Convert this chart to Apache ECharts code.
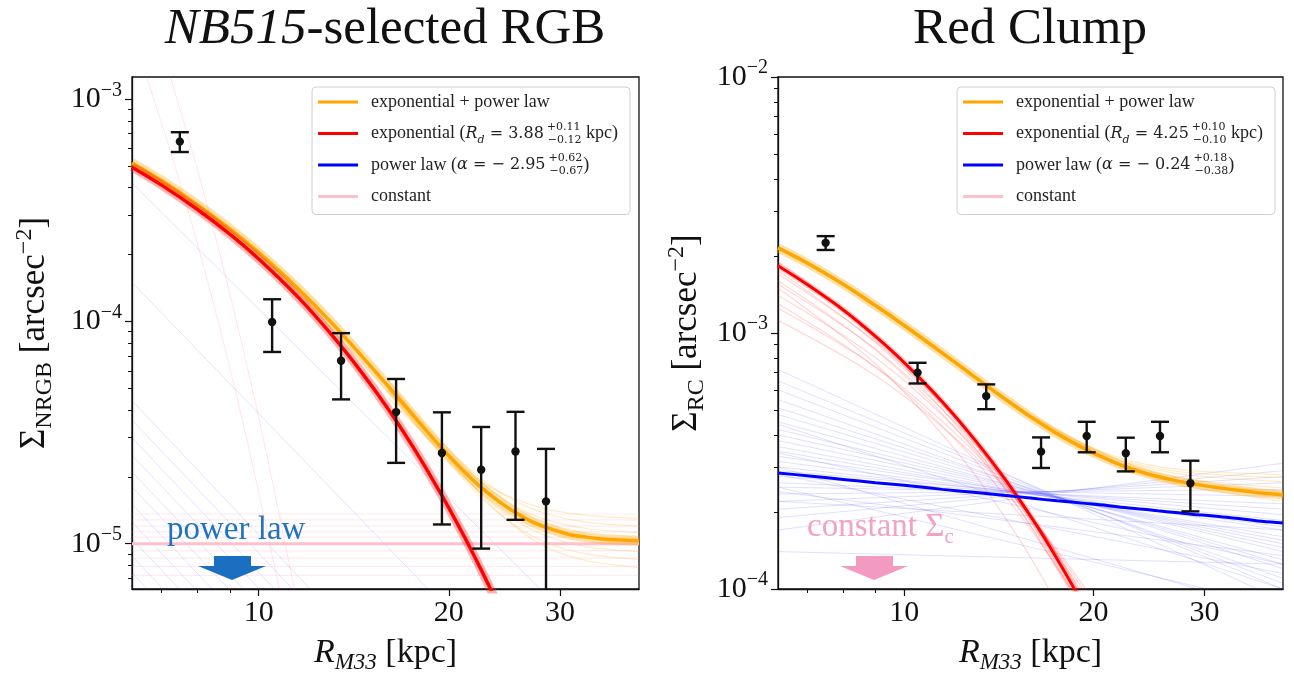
<!DOCTYPE html>
<html>
<head>
<meta charset="utf-8">
<script src="https://cdn.jsdelivr.net/npm/echarts@6/dist/echarts.min.js"></script>
<style>
  html, body { margin: 0; padding: 0; background: #fff; }
  #chart { width: 1294px; height: 681px; }
</style>
</head>
<body>
<div id="chart"></div>
<script>
// ---- measured surface densities (same radial bins for both tracers) ----
const radii = [7.5, 10.5, 13.5, 16.5, 19.5, 22.5, 25.5, 28.5];
const rgbSigma = [6.45e-4, 9.94e-5, 6.66e-5, 3.91e-5, 2.56e-5, 2.15e-5, 2.60e-5, 1.55e-5];
const rgbError = [6.6e-5, 2.65e-5, 2.2e-5, 1.6e-5, 1.34e-5, 1.2e-5, 1.32e-5, 1.12e-5];
const rcSigma = [2.25e-3, 7.0e-4, 5.67e-4, 3.44e-4, 3.96e-4, 3.39e-4, 3.96e-4, 2.59e-4];
const rcError = [1.4e-4, 6.5e-5, 6.3e-5, 4.7e-5, 5.4e-5, 5.1e-5, 5.4e-5, 5.8e-5];

// ---- best-fit model curves ----
const fitR = [6.3, 7, 8, 9, 10, 11.5, 13, 14.5, 16, 17.5, 19.4, 21, 22.4, 24, 25.3, 27, 28.6, 31, 33, 35, 37, 40];
const rgbSum = [5.17e-4, 4.32e-4, 3.35e-4, 2.61e-4, 2.04e-4, 1.42e-4, 9.96e-5, 7.08e-5, 5.14e-5, 3.82e-5, 2.73e-5, 2.15e-5, 1.81e-5, 1.55e-5, 1.40e-5, 1.26e-5, 1.18e-5, 1.10e-5, 1.07e-5, 1.05e-5, 1.04e-5, 1.03e-5];
const rgbExp = [4.95e-4, 4.13e-4, 3.19e-4, 2.47e-4, 1.91e-4, 1.30e-4, 8.81e-5, 5.98e-5, 4.07e-5, 2.76e-5, 1.69e-5, 1.12e-5, 7.82e-6, 5.2e-6, 3.7e-6, 2.4e-6, 1.58e-6, 8.5e-7, 5.1e-7, 3.0e-7, 1.8e-7, 8.0e-8];
const rgbPowR = [6.3, 40];
const rgbPow = [4.0e-6, 1.7e-8];
const rgbConstR = [6.3, 40];
const rgbConst = [1.0e-5, 1.0e-5];

const rcSum = [2.15e-3, 1.88e-3, 1.55e-3, 1.28e-3, 1.07e-3, 8.35e-4, 6.68e-4, 5.50e-4, 4.65e-4, 4.04e-4, 3.52e-4, 3.22e-4, 3.01e-4, 2.85e-4, 2.75e-4, 2.65e-4, 2.58e-4, 2.50e-4, 2.45e-4, 2.41e-4, 2.37e-4, 2.33e-4];
const rcExp = [1.83e-3, 1.55e-3, 1.23e-3, 9.70e-4, 7.66e-4, 5.38e-4, 3.78e-4, 2.66e-4, 1.87e-4, 1.31e-4, 8.39e-5, 5.76e-5, 4.14e-5, 2.84e-5, 2.09e-5, 1.4e-5, 9.6e-6, 5.5e-6, 3.4e-6, 1.9e-6, 1.1e-6, 6.0e-7];
const rcPow = [2.84e-4, 2.77e-4, 2.68e-4, 2.60e-4, 2.54e-4, 2.45e-4, 2.38e-4, 2.32e-4, 2.26e-4, 2.21e-4, 2.16e-4, 2.12e-4, 2.08e-4, 2.05e-4, 2.02e-4, 1.99e-4, 1.96e-4, 1.93e-4, 1.90e-4, 1.87e-4, 1.84e-4, 1.81e-4];
const rcConstR = [6.3, 40];
const rcConst = [5.2e-5, 5.2e-5];

// ---- posterior samples (faint curves) ----
const rgbSumFanR = [16, 19.4, 22.4, 25.3, 28.6, 33, 40];
const rgbSumFan = [
  [4.92e-5, 2.54e-5, 1.63e-5, 1.22e-5, 1.01e-5, 9.0e-6, 8.5e-6],
  [4.99e-5, 2.61e-5, 1.70e-5, 1.29e-5, 1.08e-5, 9.7e-6, 9.2e-6],
  [5.19e-5, 2.81e-5, 1.90e-5, 1.49e-5, 1.28e-5, 1.17e-5, 1.12e-5],
  [5.27e-5, 2.89e-5, 1.98e-5, 1.57e-5, 1.36e-5, 1.25e-5, 1.20e-5],
  [4.56e-5, 2.65e-5, 1.92e-5, 1.60e-5, 1.43e-5, 1.34e-5, 1.30e-5],
  [5.46e-5, 2.72e-5, 1.68e-5, 1.21e-5, 9.6e-6, 8.4e-6, 7.8e-6]
];
const rgbConstFan = [7.2e-6, 7.9e-6, 8.6e-6, 9.3e-6, 1.07e-5, 1.13e-5, 1.2e-5, 1.28e-5, 1.36e-5];
const rgbPowFanS0 = [4.2e-4, 1.5e-4, 4.4e-5, 3.6e-5, 3.0e-5, 2.5e-5, 2.1e-5, 1.8e-5, 1.5e-5, 1.25e-5, 1.05e-5, 8.8e-6, 7.4e-6];
const rgbPowFanR1 = [30, 20, 13.0, 12.2, 11.4, 10.8, 10.2, 9.66, 9.09, 8.55, 8.07, 7.6, 7.18];
const rgbPowFanS1 = [5.1e-6, 5e-6, 5e-6, 5e-6, 5e-6, 5e-6, 5e-6, 5e-6, 5e-6, 5e-6, 5e-6, 5e-6, 5e-6];
const rgbSteepR = [[6.6, 7.5, 8.5, 9.5, 10.5, 11], [7.2, 8.1, 9.1, 10.1, 11.1, 11.6]];
const rgbSteepS = [1.34e-3, 4.23e-4, 1.17e-4, 3.24e-5, 8.9e-6, 4.7e-6];

const rcExpFanR = [6.3, 9, 12, 15, 18, 21];
const rcExpFan = [
  [1.70e-3, 9.24e-4, 4.70e-4, 2.39e-4, 1.21e-4, 6.2e-5],
  [1.55e-3, 8.64e-4, 4.51e-4, 2.36e-4, 1.23e-4, 6.4e-5],
  [1.40e-3, 8.0e-4, 4.30e-4, 2.31e-4, 1.24e-4, 6.65e-5],
  [1.25e-3, 7.37e-4, 4.10e-4, 2.28e-4, 1.27e-4, 7.0e-5],
  [1.12e-3, 6.81e-4, 3.92e-4, 2.26e-4, 1.30e-4, 7.5e-5],
  [1.90e-3, 9.83e-4, 4.73e-4, 2.27e-4, 1.09e-4, 5.3e-5],
  [1.60e-3, 8.59e-4, 4.31e-4, 2.16e-4, 1.08e-4, 5.4e-5],
  [1.50e-3, 7.57e-4, 3.54e-4, 1.66e-4, 7.7e-5, 3.6e-5],
  [1.30e-3, 7.34e-4, 3.89e-4, 2.06e-4, 1.09e-4, 5.8e-5],
  [1.75e-3, 9.17e-4, 4.47e-4, 2.18e-4, 1.06e-4, 5.2e-5]
];
const rcPowFanR = [6.3, 40];
const rcPowFan = [
  [7.2e-4, 9.0e-5], [6.5e-4, 1.0e-4], [6.0e-4, 1.05e-4], [5.5e-4, 1.1e-4], [5.1e-4, 1.2e-4],
  [4.8e-4, 1.25e-4], [4.5e-4, 1.3e-4], [4.2e-4, 1.4e-4], [4.0e-4, 1.45e-4], [3.8e-4, 1.5e-4],
  [3.6e-4, 1.55e-4], [3.45e-4, 1.6e-4], [3.3e-4, 1.7e-4], [3.15e-4, 1.75e-4], [3.0e-4, 1.85e-4],
  [2.9e-4, 1.95e-4], [2.75e-4, 2.05e-4], [2.6e-4, 2.15e-4], [2.5e-4, 2.3e-4], [2.35e-4, 2.45e-4],
  [2.2e-4, 2.6e-4], [2.05e-4, 2.75e-4], [1.9e-4, 2.9e-4], [1.7e-4, 3.1e-4], [3.4e-4, 1.25e-4],
  [2.8e-4, 1.15e-4], [2.4e-4, 1.35e-4], [4.4e-4, 1.0e-4], [1.4e-4, 1.25e-4], [2.2e-4, 1.7e-4],
  [3.0e-4, 8.0e-5], [2.5e-4, 8.5e-5]
];
const rcSumFanR = [16, 19.5, 22.5, 25.5, 28.5, 33, 40];
const rcSumFan = [
  [4.70e-4, 3.60e-4, 3.12e-4, 2.90e-4, 2.78e-4, 2.70e-4, 2.62e-4],
  [4.75e-4, 3.65e-4, 3.20e-4, 3.00e-4, 2.90e-4, 2.85e-4, 2.80e-4],
  [4.60e-4, 3.45e-4, 2.95e-4, 2.68e-4, 2.50e-4, 2.36e-4, 2.20e-4],
  [4.68e-4, 3.55e-4, 3.06e-4, 2.82e-4, 2.68e-4, 2.58e-4, 2.48e-4],
  [4.72e-4, 3.62e-4, 3.15e-4, 2.95e-4, 2.84e-4, 2.78e-4, 2.72e-4],
  [4.62e-4, 3.48e-4, 3.00e-4, 2.75e-4, 2.60e-4, 2.50e-4, 2.40e-4]
];

// ---- axes ----
const xRange = [6.3, 40];
const xMajorTicks = [10, 20, 30];
const xMinorTicks = [7, 8, 9];
const rgbRange = [6.25e-6, 1.26e-3];
const rgbMajorTicks = [1e-5, 1e-4, 1e-3];
const rgbMinorTicks = [7e-6, 8e-6, 9e-6, 2e-5, 3e-5, 4e-5, 5e-5, 6e-5, 7e-5, 8e-5, 9e-5, 2e-4, 3e-4, 4e-4, 5e-4, 6e-4, 7e-4, 8e-4, 9e-4];
const rcRange = [1e-4, 1e-2];
const rcMajorTicks = [1e-4, 1e-3, 1e-2];
const rcMinorTicks = [2e-4, 3e-4, 4e-4, 5e-4, 6e-4, 7e-4, 8e-4, 9e-4, 2e-3, 3e-3, 4e-3, 5e-3, 6e-3, 7e-3, 8e-3, 9e-3];

const legendLabels = {
  rgbSum: 'exponential + power law',
  rgbExp: 'exponential ({it|R}{sb|d}{m| = 3.88}{su|+0.11}{sd|−0.12}{t| kpc)}',
  rgbPow: 'power law ({it|α}{m| = − 2.95}{su|+0.62}{sd|−0.67}{t|)}',
  rgbConst: 'constant',
  rcSum: 'exponential + power law',
  rcExp: 'exponential ({it|R}{sb|d}{m| = 4.25}{su|+0.10}{sd|−0.10}{t| kpc)}',
  rcPow: 'power law ({it|α}{m| = − 0.24}{su|+0.18}{sd|−0.38}{t|)}',
  rcConst: 'constant'
};

const SERIF = "'Liberation Serif', 'DejaVu Serif', serif";
const MATH = "'DejaVu Serif', serif";
const ORANGE = '#ffa500', RED = '#ff0000', BLUE = '#0000ff', PINK = '#ffc0cb';
const INK = '#111';

const chart = echarts.init(document.getElementById('chart'), null, { renderer: 'canvas' });

function zip(xs, ys) { return xs.map((x, i) => [x, ys[i]]); }

function curve(name, xs, ys, axis, color, width, z, smooth) {
  const s = {
    type: 'line', xAxisIndex: axis, yAxisIndex: axis,
    data: zip(xs, ys), showSymbol: false, symbol: 'none',
    smooth: smooth === undefined ? 0.35 : smooth,
    lineStyle: { color: color, width: width }, itemStyle: { color: color },
    silent: true, animation: false, z: z, emphasis: { disabled: true }
  };
  if (name) s.name = name;
  return s;
}

function errorBars(axis, rs, ss, es) {
  return {
    type: 'custom', xAxisIndex: axis, yAxisIndex: axis, clip: true, silent: true, z: 20,
    animation: false,
    data: rs.map((r, i) => [r, ss[i], ss[i] - es[i], ss[i] + es[i]]),
    encode: { x: 0, y: [1, 2, 3] },
    renderItem(params, api) {
      const r = api.value(0);
      const c = api.coord([r, api.value(1)]);
      const lo = api.coord([r, api.value(2)]);
      const hi = api.coord([r, api.value(3)]);
      const w = 9;
      const st = { stroke: INK, lineWidth: 2.4 };
      return {
        type: 'group', children: [
          { type: 'line', shape: { x1: c[0], y1: hi[1], x2: c[0], y2: lo[1] }, style: st },
          { type: 'line', shape: { x1: c[0] - w, y1: hi[1], x2: c[0] + w, y2: hi[1] }, style: st },
          { type: 'line', shape: { x1: c[0] - w, y1: lo[1], x2: c[0] + w, y2: lo[1] }, style: st },
          { type: 'circle', shape: { cx: c[0], cy: c[1], r: 4.2 }, style: { fill: INK } }
        ]
      };
    }
  };
}

const tickLabelRich = {
  b: { fontSize: 30, fontFamily: SERIF, color: INK, lineHeight: 38 },
  s: { fontSize: 20, fontFamily: SERIF, color: INK, lineHeight: 20, verticalAlign: 'top' }
};
function powerLabel(v) {
  const e = Math.round(Math.log10(v));
  return '{b|10}{s|' + (e < 0 ? '−' + (-e) : e) + '}';
}

const xNameRich = {
  i: { fontSize: 34, fontFamily: SERIF, fontStyle: 'italic', color: INK, lineHeight: 42 },
  sb: { fontSize: 23, fontFamily: SERIF, fontStyle: 'italic', color: INK, lineHeight: 26, verticalAlign: 'bottom' },
  n: { fontSize: 34, fontFamily: SERIF, color: INK, lineHeight: 42 }
};
const yNameRich = {
  n: { fontSize: 35, fontFamily: SERIF, color: INK, lineHeight: 44 },
  sb: { fontSize: 24, fontFamily: SERIF, color: INK, lineHeight: 27, verticalAlign: 'bottom' },
  su: { fontSize: 24, fontFamily: SERIF, color: INK, lineHeight: 27, verticalAlign: 'top' }
};

function xAxes(grid) {
  const common = { type: 'log', logBase: 10, gridIndex: grid, position: 'bottom', min: xRange[0], max: xRange[1], splitLine: { show: false }, minorTick: { show: false }, minorSplitLine: { show: false } };
  return [
    Object.assign({}, common, {
      axisLine: { show: true, onZero: false, lineStyle: { color: INK, width: 1.3 } },
      axisTick: { show: true, customValues: xMajorTicks, length: 7, lineStyle: { color: INK, width: 1.2 } },
      axisLabel: { show: true, customValues: xMajorTicks, formatter: v => String(Math.round(v)), fontSize: 30, fontFamily: SERIF, color: INK, margin: 9 },
      name: '{i|R}{sb|M33}{n| [kpc]}', nameLocation: 'middle', nameGap: 43,
      nameTextStyle: { rich: xNameRich }
    }),
    Object.assign({}, common, {
      axisLine: { show: false, onZero: false },
      axisTick: { show: true, customValues: xMinorTicks, length: 4, lineStyle: { color: INK, width: 1 } },
      axisLabel: { show: false }
    })
  ];
}

function yAxes(grid, range, major, minor, name, gap) {
  const common = { type: 'log', logBase: 10, gridIndex: grid, position: 'left', min: range[0], max: range[1], splitLine: { show: false }, minorTick: { show: false }, minorSplitLine: { show: false } };
  return [
    Object.assign({}, common, {
      axisLine: { show: true, onZero: false, lineStyle: { color: INK, width: 1.3 } },
      axisTick: { show: true, customValues: major, length: 7, lineStyle: { color: INK, width: 1.2 } },
      axisLabel: { show: true, customValues: major, formatter: powerLabel, rich: tickLabelRich, margin: 10 },
      name: name, nameLocation: 'middle', nameRotate: 90, nameGap: gap,
      nameTextStyle: { rich: yNameRich }
    }),
    Object.assign({}, common, {
      axisLine: { show: false, onZero: false },
      axisTick: { show: true, customValues: minor, length: 4, lineStyle: { color: INK, width: 1 } },
      axisLabel: { show: false }
    })
  ];
}

const legendRich = {
  it: { fontSize: 16, fontFamily: MATH, fontStyle: 'italic', color: '#222', lineHeight: 24 },
  sb: { fontSize: 11, fontFamily: MATH, fontStyle: 'italic', color: '#222', lineHeight: 12, verticalAlign: 'bottom' },
  m: { fontSize: 16, fontFamily: MATH, color: '#222', lineHeight: 24, padding: [0, 3, 0, 0] },
  t: { fontSize: 18, fontFamily: SERIF, color: '#222', lineHeight: 24 },
  su: { fontSize: 11, fontFamily: MATH, color: '#222', lineHeight: 12, verticalAlign: 'top', width: 1 },
  sd: { fontSize: 11, fontFamily: MATH, color: '#222', lineHeight: 12, verticalAlign: 'bottom' }
};
function legendFor(names, colors, right) {
  return {
    orient: 'vertical', right: right, top: 87, selectedMode: false,
    data: names.map((n, i) => ({ name: n, icon: 'rect', itemStyle: { color: colors[i] } })),
    formatter: n => legendLabels[n],
    icon: 'rect', itemWidth: 40, itemHeight: 3, itemGap: 7.5,
    padding: [3, 12, 6, 6],
    backgroundColor: '#fff', borderColor: '#d0d0d0', borderWidth: 1, borderRadius: 4,
    textStyle: { fontSize: 18, fontFamily: SERIF, color: '#222', lineHeight: 24, padding: [0, 0, 0, 8], rich: legendRich }
  };
}

const series = [];
// left panel: samples
rgbConstFan.forEach(c => series.push(curve(null, rgbConstR, [c, c], 0, 'rgba(255,170,185,0.22)', 1.2, 1, false)));
rgbPowFanS0.forEach((s0, i) => series.push(curve(null, [6.3, rgbPowFanR1[i]], [s0, rgbPowFanS1[i]], 0, 'rgba(80,80,255,0.16)', 1, 1, false)));
rgbSteepR.forEach(rs => series.push(curve(null, rs, rgbSteepS, 0, 'rgba(255,90,120,0.16)', 1, 1)));
rgbSumFan.forEach(v => series.push(curve(null, rgbSumFanR, v, 0, 'rgba(255,165,0,0.22)', 1.2, 2)));
// left panel: best fit
series.push(curve('rgbConst', rgbConstR, rgbConst, 0, PINK, 3, 3, false));
series.push(curve(null, fitR, rgbSum, 0, 'rgba(255,165,0,0.35)', 10, 4));
series.push(curve('rgbSum', fitR, rgbSum, 0, ORANGE, 3.5, 5));
series.push(curve(null, fitR, rgbExp, 0, 'rgba(255,40,40,0.35)', 9, 6));
series.push(curve('rgbExp', fitR, rgbExp, 0, RED, 3.5, 7));
series.push(curve('rgbPow', rgbPowR, rgbPow, 0, BLUE, 3, 8, false));
series.push(errorBars(0, radii, rgbSigma, rgbError));

// right panel: samples
rcPowFan.forEach(p => series.push(curve(null, rcPowFanR, p, 2, 'rgba(60,60,255,0.16)', 1, 1, false)));
rcExpFan.forEach(v => series.push(curve(null, rcExpFanR, v, 2, 'rgba(255,60,60,0.2)', 1.2, 2)));
rcSumFan.forEach(v => series.push(curve(null, rcSumFanR, v, 2, 'rgba(255,165,0,0.22)', 1.2, 2)));
// right panel: best fit
series.push(curve('rcConst', rcConstR, rcConst, 2, PINK, 3, 3, false));
series.push(curve(null, fitR, rcSum, 2, 'rgba(255,165,0,0.35)', 9, 4));
series.push(curve('rcSum', fitR, rcSum, 2, ORANGE, 3.5, 5));
series.push(curve(null, fitR, rcExp, 2, 'rgba(255,40,40,0.25)', 6, 6));
series.push(curve('rcExp', fitR, rcExp, 2, RED, 3, 7));
series.push(curve('rcPow', fitR, rcPow, 2, BLUE, 3, 8));
series.push(errorBars(2, radii, rcSigma, rcError));

const titleRich = {
  i: { fontSize: 51, fontStyle: 'italic', fontWeight: 'normal', fontFamily: SERIF, color: INK },
  n: { fontSize: 51, fontWeight: 'normal', fontFamily: SERIF, color: INK }
};

const option = {
  animation: false,
  backgroundColor: '#fff',
  title: [
    { text: '{i|NB515}{n|-selected RGB}', left: 385, top: 4, textAlign: 'center', padding: 0,
      textStyle: { fontWeight: 'normal', rich: titleRich } },
    { text: '{n|Red Clump}', left: 1030, top: 4, textAlign: 'center', padding: 0,
      textStyle: { fontWeight: 'normal', rich: titleRich } }
  ],
  grid: [
    { left: 132, top: 77, width: 507, height: 512, show: true, borderColor: INK, borderWidth: 1.3, backgroundColor: 'transparent' },
    { left: 778, top: 77, width: 505, height: 512, show: true, borderColor: INK, borderWidth: 1.3, backgroundColor: 'transparent' }
  ],
  xAxis: xAxes(0).concat(xAxes(1)),
  yAxis: yAxes(0, rgbRange, rgbMajorTicks, rgbMinorTicks, '{n|Σ}{sb|NRGB}{n| [arcsec}{su|−2}{n|]}', 75)
    .concat(yAxes(1, rcRange, rcMajorTicks, rcMinorTicks, '{n|Σ}{sb|RC}{n| [arcsec}{su|−2}{n|]}', 69)),
  legend: [
    legendFor(['rgbSum', 'rgbExp', 'rgbPow', 'rgbConst'], [ORANGE, RED, BLUE, PINK], 664),
    legendFor(['rcSum', 'rcExp', 'rcPow', 'rcConst'], [ORANGE, RED, BLUE, PINK], 19)
  ],
  graphic: [
    { type: 'text', left: 167, top: 514, z: 50,
      style: { text: 'power law', fontSize: 33, fontFamily: SERIF, fill: '#1f74c0' } },
    { type: 'polygon', z: 50,
      shape: { points: [[214, 556], [251, 556], [251, 566], [266, 566], [232, 580], [198, 566], [214, 566]] },
      style: { fill: '#1a6fc0' } },
    { type: 'text', left: 807, top: 511, z: 50,
      style: { text: '{a|constant Σ}{b|c}', rich: {
        a: { fontSize: 33, fontFamily: SERIF, fill: '#f3a2c3', color: '#f3a2c3', lineHeight: 40 },
        b: { fontSize: 21, fontFamily: SERIF, fill: '#f3a2c3', color: '#f3a2c3', lineHeight: 24, verticalAlign: 'bottom' } } } },
    { type: 'polygon', z: 50,
      shape: { points: [[856, 556], [893, 556], [893, 566], [908, 566], [874, 580], [840, 566], [856, 566]] },
      style: { fill: '#f39ac0' } }
  ],
  series: series
};
chart.setOption(option);
</script>
</body>
</html>
